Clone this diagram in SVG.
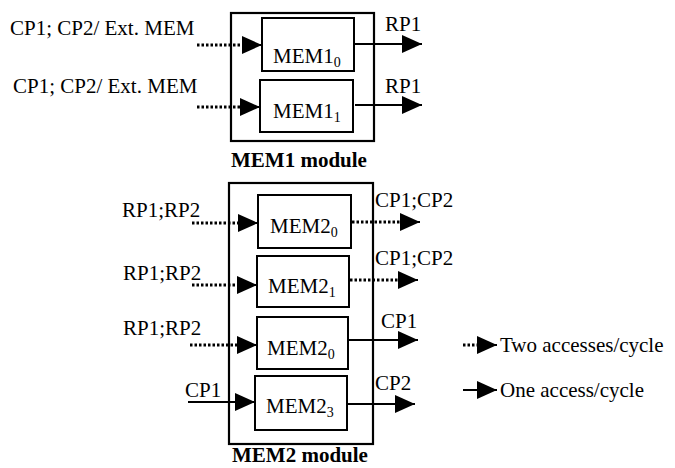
<svg xmlns="http://www.w3.org/2000/svg" width="675" height="468" viewBox="0 0 675 468">
<defs>
<marker id="ah" markerUnits="userSpaceOnUse" markerWidth="20" markerHeight="20" refX="20" refY="9" orient="auto">
<path d="M0,0 L20,9 L0,18 z" fill="#000"/>
</marker>
<style>
text{font-family:"Liberation Serif","Times New Roman",serif;font-size:21px;fill:#000}
.b{font-weight:bold}
.sub{font-size:14px}
.box{fill:#fff;stroke:#000;stroke-width:2}
.mod{fill:none;stroke:#000;stroke-width:2.2}
.sol{stroke:#000;stroke-width:2;fill:none}
.dot{stroke:#000;stroke-width:3;stroke-dasharray:2.5 2;fill:none}
</style>
</defs>
<rect width="675" height="468" fill="#fff"/>

<g id="mem1-module">
<rect class="mod" x="231" y="13" width="143" height="128"/>
<text class="b" x="231" y="167">MEM1 module</text>
</g>
<g id="mem1-0">
<rect class="box" x="262" y="18" width="92" height="53"/>
<text x="273" y="63">MEM1<tspan class="sub" dy="4">0</tspan></text>
</g>
<g id="mem1-1">
<rect class="box" x="260" y="80" width="93" height="52"/>
<text x="273" y="118">MEM1<tspan class="sub" dy="4">1</tspan></text>
</g>

<g id="mem2-module">
<rect class="mod" x="229" y="183" width="144" height="261"/>
<text class="b" x="232" y="462">MEM2 module</text>
</g>
<g id="mem2-0a">
<rect class="box" x="258" y="195" width="93" height="53"/>
<text x="270" y="233">MEM2<tspan class="sub" dy="4">0</tspan></text>
</g>
<g id="mem2-1">
<rect class="box" x="257" y="256" width="92" height="51"/>
<text x="268" y="293">MEM2<tspan class="sub" dy="4">1</tspan></text>
</g>
<g id="mem2-0b">
<rect class="box" x="257" y="317" width="91" height="52"/>
<text x="267" y="355">MEM2<tspan class="sub" dy="4">0</tspan></text>
</g>
<g id="mem2-3">
<rect class="box" x="255" y="376" width="92" height="54"/>
<text x="266" y="413">MEM2<tspan class="sub" dy="4">3</tspan></text>
</g>

<g id="labels">
<text x="10" y="35">CP1; CP2/ Ext. MEM</text>
<text x="13" y="93">CP1; CP2/ Ext. MEM</text>
<text x="385" y="31">RP1</text>
<text x="385" y="93">RP1</text>
<text x="122" y="217">RP1;RP2</text>
<text x="123" y="280">RP1;RP2</text>
<text x="123" y="335">RP1;RP2</text>
<text x="185" y="397">CP1</text>
<text x="375" y="207">CP1;CP2</text>
<text x="375" y="265">CP1;CP2</text>
<text x="381" y="328">CP1</text>
<text x="375" y="390">CP2</text>
<text x="500" y="352">Two accesses/cycle</text>
<text x="500" y="397">One access/cycle</text>
</g>

<g id="connectors">
<line class="dot" x1="197" y1="45" x2="244" y2="45"/>
<line class="sol" x1="242" y1="45" x2="262" y2="45" marker-end="url(#ah)"/>
<line class="dot" x1="197" y1="107" x2="242" y2="107"/>
<line class="sol" x1="240" y1="107" x2="260" y2="107" marker-end="url(#ah)"/>
<line class="sol" x1="354" y1="44" x2="422" y2="44" marker-end="url(#ah)"/>
<line class="sol" x1="355" y1="105" x2="422" y2="105" marker-end="url(#ah)"/>

<line class="dot" x1="192" y1="223" x2="240" y2="223"/>
<line class="sol" x1="238" y1="223" x2="258" y2="223" marker-end="url(#ah)"/>
<line class="dot" x1="192" y1="285" x2="239" y2="285"/>
<line class="sol" x1="237" y1="285" x2="257" y2="285" marker-end="url(#ah)"/>
<line class="dot" x1="190" y1="345" x2="239" y2="345"/>
<line class="sol" x1="237" y1="345" x2="257" y2="345" marker-end="url(#ah)"/>
<line class="sol" x1="188" y1="402" x2="255" y2="402" marker-end="url(#ah)"/>

<line class="dot" x1="352" y1="222" x2="401" y2="222"/>
<line class="sol" x1="400" y1="222" x2="420" y2="222" marker-end="url(#ah)"/>
<line class="dot" x1="350" y1="280" x2="399" y2="280"/>
<line class="sol" x1="398" y1="280" x2="418" y2="280" marker-end="url(#ah)"/>
<line class="sol" x1="348" y1="340" x2="418" y2="340" marker-end="url(#ah)"/>
<line class="sol" x1="347" y1="404" x2="415" y2="404" marker-end="url(#ah)"/>

<line class="dot" x1="463" y1="345" x2="479" y2="345"/>
<line class="sol" x1="477" y1="345" x2="497" y2="345" marker-end="url(#ah)"/>
<line class="sol" x1="463" y1="390" x2="497" y2="390" marker-end="url(#ah)"/>
</g>
</svg>
